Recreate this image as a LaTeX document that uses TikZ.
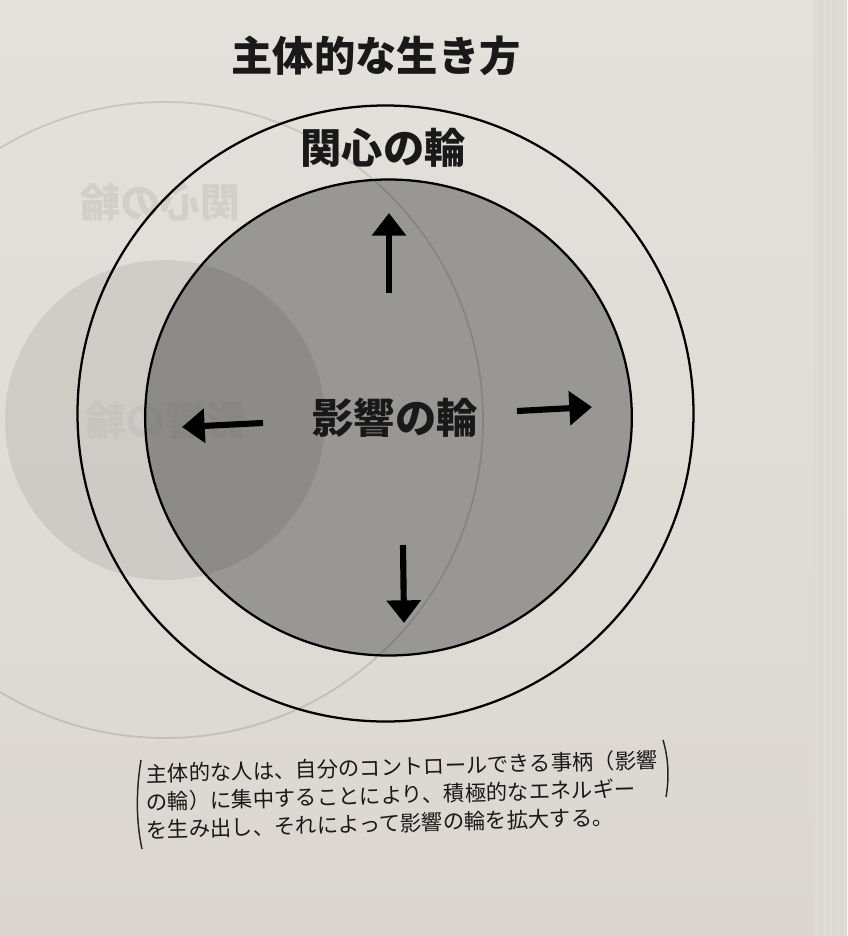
\documentclass[tikz,border=0pt]{standalone}
\usepackage{fontspec}
\newfontfamily\jp{Noto Sans CJK JP}
\usetikzlibrary{arrows.meta,shapes.geometric}
\definecolor{paper}{RGB}{228,225,220}
\definecolor{paperlow}{RGB}{219,215,208}
\definecolor{pageedge}{RGB}{222,217,209}
\definecolor{disc}{RGB}{153,151,147}
\begin{document}
\begin{tikzpicture}[x=0.75pt,y=-0.75pt,
  ring/.style={draw=black, line width=1.7pt, inner sep=0pt},
  bigarrow/.style={-{Triangle[width=25pt,length=17pt]}, line width=4.6pt, draw=black},
  headtext/.style={font=\jp\bfseries\fontsize{31pt}{31pt}\selectfont, inner sep=0pt, text=black!90},
  ghosttext/.style={font=\jp\bfseries\fontsize{30pt}{30pt}\selectfont, inner sep=0pt, text=black, opacity=0.07, xscale=-1},
  captext/.style={anchor=west, rotate=1.6, inner sep=0pt, font=\jp\fontsize{16pt}{16pt}\selectfont, text=black!90},
  bracket/.style={line width=1.1pt, draw=black!85}]
\useasboundingbox (0,0) rectangle (847,936);
% paper
\shade[top color=paper, bottom color=paperlow] (0,0) rectangle (847,936);
\fill[pageedge] (814,0) rectangle (847,936);
\foreach \xx in {816,824,831,838,844}{\draw[black!12, line width=0.4pt] (\xx,0) -- (\xx,936);}
% title
\node[headtext] (title) at (376,56) {主体的な生き方};
% circles
\node[ring, circle, minimum size=462pt] (outer) at (385.5,413.5) {};
\node[ring, ellipse, fill=disc, minimum width=365pt, minimum height=357pt] (inner) at (388.5,417.5) {};
\node[headtext] (concern) at (383,148) {関心の輪};
\node[headtext] (influence) at (395,418) {影響の輪};
% arrows
\coordinate (upA) at (389,293);  \coordinate (upB) at (389,213);
\coordinate (dnA) at (403,545);  \coordinate (dnB) at (404,623);
\coordinate (lfA) at (263,423);  \coordinate (lfB) at (182,427);
\coordinate (rtA) at (517,411);  \coordinate (rtB) at (592,407);
\draw[bigarrow] (upA) -- (upB);
\draw[bigarrow] (dnA) -- (dnB);
\draw[bigarrow] (lfA) -- (lfB);
\draw[bigarrow] (rtA) -- (rtB);
% caption, one node per line
\node[captext] (cap1) at (146,774) {主体的な人は、自分のコントロールできる事柄（影響};
\node[captext] (cap2) at (146,802) {の輪）に集中することにより、積極的なエネルギー};
\node[captext] (cap3) at (146,830) {を生み出し、それによって影響の輪を拡大する。};
\draw[bracket] (141,760) .. controls (136,790) and (136,822) .. (142,849);
\draw[bracket] (663,740) .. controls (669,760) and (669,780) .. (666,797);
% show-through from the reverse page
\fill[black, opacity=0.075] (165,420) circle [radius=160];
\draw[black, opacity=0.12, line width=1.3pt] (165,420) circle [radius=318];
\node[ghosttext] (ghost1) at (160,202) {関心の輪};
\node[ghosttext, opacity=0.035] (ghost2) at (165,420) {影響の輪};
\end{tikzpicture}
\end{document}
